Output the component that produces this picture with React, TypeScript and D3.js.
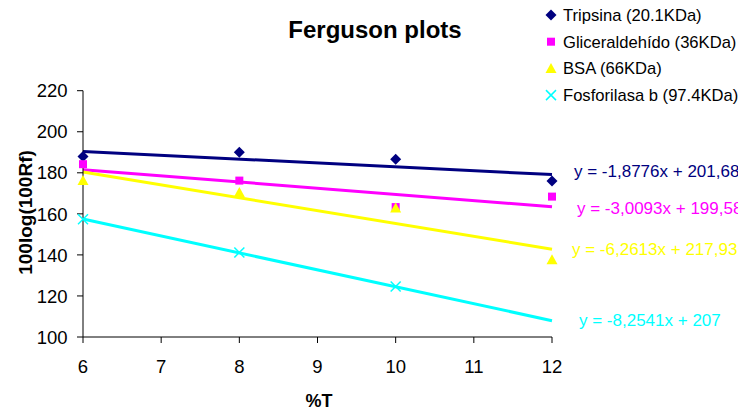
import React from "react";
import * as d3 from "d3";

const xValues = [6, 8, 10, 12];
const seriesNames = ["Tripsina (20.1KDa)", "Gliceraldehído (36KDa)", "BSA (66KDa)", "Fosforilasa b (97.4KDa)"];
const tripsina = [188, 190, 186.6, 176];
const gliceraldehido = [184.2, 176.2, 163.3, 168.4];
const bsa = [176.2, 170.4, 162.8, 137.6];
const fosforilasa = [157.4, 141.2, 124.6, null];
const slopes = [-1.8776, -3.0093, -6.2613, -8.2541];
const intercepts = [201.68, 199.58, 217.93, 207];
const equationLabels = ["y = -1,8776x + 201,68", "y = -3,0093x + 199,58", "y = -6,2613x + 217,93", "y = -8,2541x + 207"];
const colors = ["#000080", "#FF00FF", "#FFFF00", "#00FFFF"];
const markers = ["diamond", "square", "triangle", "cross"];
const xTicks = [6, 7, 8, 9, 10, 11, 12];
const yTicks = [100, 120, 140, 160, 180, 200, 220];

const allSeries = [tripsina, gliceraldehido, bsa, fosforilasa];
const labelPos = [
  { x: 574, y: 171 },
  { x: 577, y: 208 },
  { x: 572, y: 249 },
  { x: 579, y: 320 },
];

const FONT = "'Liberation Sans', Arial, sans-serif";

function Marker({ type, x, y, color }: { type: string; x: number; y: number; color: string }) {
  if (type === "diamond") {
    const r = 5.5;
    return <path d={`M${x},${y - r}L${x + r},${y}L${x},${y + r}L${x - r},${y}Z`} fill={color} />;
  }
  if (type === "square") {
    return <rect x={x - 4} y={y - 4} width={8} height={8} fill={color} />;
  }
  if (type === "triangle") {
    return <path d={`M${x},${y - 5.5}L${x + 5.5},${y + 4.5}L${x - 5.5},${y + 4.5}Z`} fill={color} />;
  }
  return (
    <g stroke={color} strokeWidth={1.5}>
      <line x1={x - 5} y1={y - 5} x2={x + 5} y2={y + 5} />
      <line x1={x - 5} y1={y + 5} x2={x + 5} y2={y - 5} />
    </g>
  );
}

export default function App() {
  const x = d3.scaleLinear().domain([6, 12]).range([83, 552]);
  const y = d3.scaleLinear().domain([100, 220]).range([337, 90.7]);

  return (
    <svg width={738} height={411} style={{ position: "absolute", left: 0, top: 0, background: "#fff" }} fontFamily={FONT}>
      <rect width={738} height={411} fill="#fff" />
      <text x={375} y={38} textAnchor="middle" fontSize={24} fontWeight="bold">Ferguson plots</text>

      {/* trend lines */}
      {slopes.map((m, i) => (
        <line key={"t" + i} x1={x(6)} y1={y(m * 6 + intercepts[i])} x2={x(12)} y2={y(m * 12 + intercepts[i])}
          stroke={colors[i]} strokeWidth={3} />
      ))}

      {/* axes */}
      <line x1={83} y1={y(220)} x2={83} y2={y(100)} stroke="#000" strokeWidth={1} />
      <line x1={83} y1={y(100)} x2={552} y2={y(100)} stroke="#000" strokeWidth={1} />
      {yTicks.map((t) => (
        <g key={"y" + t}>
          <line x1={77} x2={83} y1={y(t)} y2={y(t)} stroke="#000" />
          <text x={67.5} y={y(t)} dy="0.36em" textAnchor="end" fontSize={18.5}>{t}</text>
        </g>
      ))}
      {xTicks.map((t) => (
        <g key={"x" + t}>
          <line x1={x(t)} x2={x(t)} y1={337} y2={343} stroke="#000" />
          <text x={x(t)} y={366.5} dy="0.36em" textAnchor="middle" fontSize={18.5}>{t}</text>
        </g>
      ))}
      <text x={319} y={401} dy="0.36em" textAnchor="middle" fontSize={18} fontWeight="bold">%T</text>
      <text transform={`translate(25,212.5) rotate(-90)`} dy="0.36em" textAnchor="middle" fontSize={19} fontWeight="bold">100log(100Rf)</text>

      {/* markers */}
      {allSeries.map((s, i) =>
        s.map((v, j) => (v == null ? null : (
          <Marker key={`m${i}-${j}`} type={markers[i]} x={x(xValues[j])} y={y(v)} color={colors[i]} />
        )))
      )}

      {/* equations */}
      {equationLabels.map((l, i) => (
        <text key={"e" + i} x={labelPos[i].x} y={labelPos[i].y} dy="0.36em" fontSize={17} fill={colors[i]}>{l}</text>
      ))}

      {/* legend */}
      {seriesNames.map((n, i) => (
        <g key={"l" + i}>
          <Marker type={markers[i]} x={551} y={15 + i * 26.7} color={colors[i]} />
          <text x={563} y={15 + i * 26.7} dy="0.36em" fontSize={16.6}>{n}</text>
        </g>
      ))}
    </svg>
  );
}
